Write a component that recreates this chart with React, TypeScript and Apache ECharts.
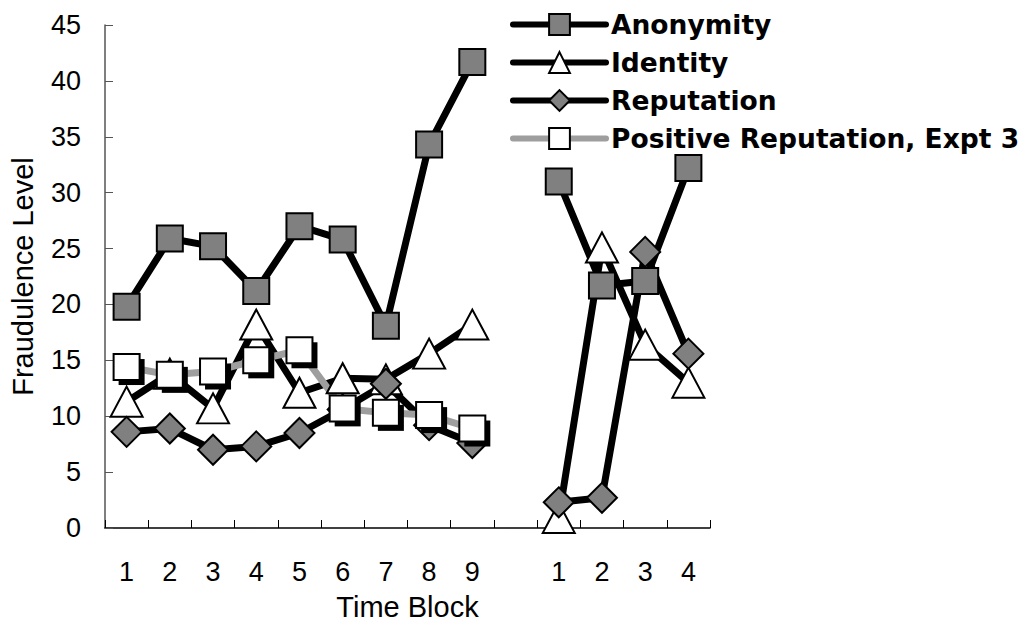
import React, { useEffect, useRef } from 'react';
import * as echarts from 'echarts';

const categories = ['1', '2', '3', '4', '5', '6', '7', '8', '9', '', '1', '2', '3', '4'];
const yTicks = { min: 0, max: 45, interval: 5 };

const anonymity = [19.8, 25.9, 25.2, 21.2, 27.0, 25.8, 18.1, 34.3, 41.7, null, 31.0, 21.7, 22.1, 32.2];
const identity = [11.3, 13.8, 10.7, 18.2, 12.1, 13.4, 13.3, 15.6, 18.2, null, 0.9, 25.1, 16.4, 13.0];
const reputation = [8.6, 8.9, 7.0, 7.3, 8.5, 10.6, 12.9, 9.2, 7.6, null, 2.3, 2.7, 24.7, 15.6];
const positiveRep = [14.4, 13.7, 14.0, 15.0, 15.9, 10.7, 10.3, 10.1, 8.9, null, null, null, null, null];

const seriesNames = ['Anonymity', 'Identity', 'Reputation', 'Positive Reputation, Expt 3'];

const FONT = 'Arial, "Liberation Sans", sans-serif';

export default function App() {
  const ref = useRef<HTMLDivElement>(null);
  useEffect(() => {
    const chart = echarts.init(ref.current!, null, { renderer: 'svg' });
    const lineBase = { type: 'line', showSymbol: true, connectNulls: false, z: 2 };
    chart.setOption({
      animation: false,
      backgroundColor: '#ffffff',
      grid: { left: 105, top: 25, width: 605, height: 503, containLabel: false },
      legend: {
        orient: 'vertical',
        left: 510,
        top: 11,
        padding: 0,
        itemWidth: 93,
        itemHeight: 26,
        itemGap: 11,
        lineStyle: { width: 6, cap: 'round' },
        textStyle: { fontFamily: 'DejaVu Sans', fontWeight: 'bold', fontSize: 26.5, color: '#000' },
        data: seriesNames,
      },
      xAxis: {
        type: 'category',
        data: categories,
        boundaryGap: true,
        name: 'Time Block',
        nameLocation: 'middle',
        nameGap: 64,
        nameTextStyle: { fontFamily: FONT, fontSize: 29, color: '#000' },
        axisLine: { lineStyle: { color: '#000', width: 1.5 } },
        axisTick: { show: true, inside: true, length: 8, interval: 0, lineStyle: { color: '#000', width: 1 } },
        axisLabel: { interval: 0, margin: 30, fontFamily: FONT, fontSize: 27, color: '#000' },
        splitLine: { show: false },
      },
      yAxis: {
        type: 'value',
        min: yTicks.min,
        max: yTicks.max,
        interval: yTicks.interval,
        name: 'Fraudulence Level',
        nameLocation: 'middle',
        nameGap: 68,
        nameTextStyle: { fontFamily: FONT, fontSize: 29, color: '#000' },
        axisLine: { show: true, lineStyle: { color: '#555', width: 1.5 } },
        axisTick: { show: true, inside: true, length: 8, lineStyle: { color: '#555', width: 1 } },
        axisLabel: { margin: 24, fontFamily: FONT, fontSize: 27, color: '#000' },
        splitLine: { show: false },
      },
      series: [
        {
          ...lineBase,
          name: seriesNames[0],
          data: anonymity,
          symbol: 'rect',
          symbolSize: 26,
          lineStyle: { color: '#000', width: 7 },
          itemStyle: { color: '#808080', borderColor: '#000', borderWidth: 2 },
        },
        {
          ...lineBase,
          name: seriesNames[1],
          data: identity,
          symbol: 'triangle',
          symbolSize: [32, 30],
          lineStyle: { color: '#000', width: 7 },
          itemStyle: { color: '#ffffff', borderColor: '#000', borderWidth: 2 },
        },
        {
          ...lineBase,
          name: seriesNames[2],
          data: reputation,
          symbol: 'diamond',
          symbolSize: 30,
          lineStyle: { color: '#000', width: 7 },
          itemStyle: { color: '#808080', borderColor: '#000', borderWidth: 2 },
        },
        {
          ...lineBase,
          name: 'Positive Reputation shadow',
          data: positiveRep,
          symbol: 'rect',
          symbolSize: 26,
          symbolOffset: [5, 5],
          lineStyle: { width: 0, opacity: 0 },
          itemStyle: { color: '#000', borderWidth: 0 },
          silent: true,
        },
        {
          ...lineBase,
          name: seriesNames[3],
          data: positiveRep,
          symbol: 'rect',
          symbolSize: 26,
          lineStyle: { color: '#9e9e9e', width: 7 },
          itemStyle: { color: '#ffffff', borderColor: '#000', borderWidth: 2 },
        },
      ],
    });
    return () => chart.dispose();
  }, []);
  return <div ref={ref} style={{ position: 'fixed', left: 0, top: 0, width: 1029, height: 631 }} />;
}
